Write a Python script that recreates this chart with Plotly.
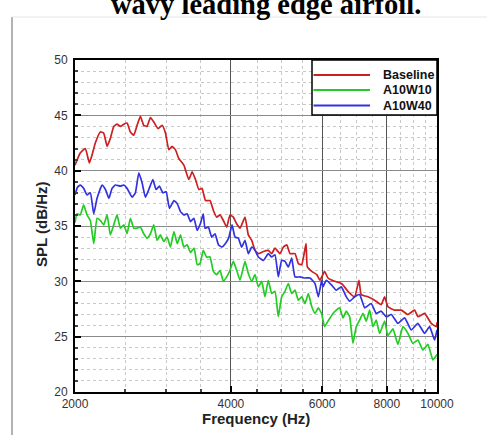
import plotly.graph_objects as go

# ---- data ----
f_base = [2000,2047,2094,2132,2157,2189,2238,2272,2307,2340,2376,2411,2447,2485,2521,2558,2597,2636,2675,2715,
          2755,2797,2839,2894,2946,2990,3035,3080,3125,3173,3245,3318,3367,3417,3469,3518,3573,3645,3700,3755,
          3811,3867,3926,3984,4043,4104,4165,4259,4322,4388,4453,4519,4624,4723,4795,4866,4976,5051,5128,5202,
          5319,5399,5480,5586,5619,5731,5861,5943,6066,6159,6348,6542,6731,6934,7068,7140,7356,7577,7804,7922,
          8040,8286,8530,8787,9052,9186,9463,9745,9975,10000]
spl_base = [40.5,41.6,42.0,40.7,41.4,42.5,43.5,43.4,42.2,42.9,44.0,44.2,44.0,44.2,44.3,43.5,43.2,44.1,44.9,44.1,
            44.0,44.8,44.4,43.8,44.1,43.4,41.9,42.2,41.9,41.1,40.5,39.2,39.9,39.2,38.3,38.4,37.3,37.3,36.4,35.8,
            36.0,35.5,34.9,36.0,35.8,35.2,34.8,35.8,34.2,33.7,32.8,32.5,32.7,32.8,32.5,33.0,32.5,33.1,33.3,32.5,
            32.5,31.6,31.5,33.4,31.3,30.9,30.6,30.1,30.9,30.3,30.0,29.8,29.1,28.6,30.1,28.8,28.6,28.3,27.9,28.6,
            27.7,27.4,27.4,27.0,27.4,26.8,27.1,26.2,25.9,26.3]

f_w10 = [2000,2018,2047,2078,2110,2141,2174,2206,2238,2272,2307,2340,2376,2411,2447,2485,2521,2558,2597,2636,
         2675,2715,2755,2797,2839,2881,2924,2968,3013,3057,3105,3152,3197,3245,3293,3342,3397,3443,3487,3537,
         3590,3645,3700,3755,3811,3867,3926,3984,4043,4104,4165,4259,4322,4388,4453,4519,4587,4655,4723,4795,
         4866,4939,5013,5087,5163,5241,5319,5399,5480,5561,5644,5731,5814,5900,5985,6066,6159,6297,6390,6487,
         6584,6682,6782,6882,6984,7090,7195,7302,7413,7522,7632,7749,7922,8040,8221,8405,8594,8787,8984,9186,
         9392,9603,9819,10000]
spl_w10 = [35.3,36.1,36.0,36.9,36.0,35.5,33.4,35.7,35.5,35.1,36.0,34.2,35.1,36.0,34.8,35.1,34.3,35.7,34.8,34.8,
           34.9,34.3,33.9,34.3,35.1,33.7,34.2,33.6,34.0,33.1,34.5,33.4,34.2,33.1,33.3,32.6,33.0,31.5,31.6,32.8,
           32.2,32.2,30.9,30.6,31.0,30.0,30.4,31.0,31.8,31.0,30.1,31.8,30.7,30.0,30.6,29.5,30.0,28.6,30.1,28.9,
           29.1,26.8,28.6,29.1,29.8,28.9,29.2,28.3,28.6,28.0,28.9,27.7,27.1,27.6,27.1,25.9,26.4,27.1,27.4,27.6,
           26.7,27.3,26.8,24.4,25.9,26.5,27.1,26.4,27.4,25.9,26.5,25.3,26.4,25.1,25.7,24.3,25.9,25.3,24.4,24.7,
           23.8,24.3,22.9,23.4]

f_w40 = [2000,2022,2047,2078,2110,2141,2174,2206,2256,2290,2325,2358,2393,2447,2485,2521,2578,2616,2656,2695,
         2735,2777,2827,2868,2911,2955,2999,3044,3105,3152,3197,3245,3293,3342,3393,3443,3492,3537,3565,3618,
         3673,3728,3784,3843,3901,3960,4020,4074,4134,4196,4259,4322,4388,4453,4519,4624,4723,4795,4866,4939,
         5013,5087,5163,5241,5319,5439,5561,5686,5814,5900,5989,6023,6112,6249,6390,6534,6682,6782,6934,7090,
         7252,7465,7632,7804,7980,8162,8405,8660,8916,9186,9463,9675,9893,10000]
spl_w40 = [37.8,38.5,38.7,38.4,37.8,38.0,36.1,37.5,38.7,38.3,37.5,38.4,38.7,38.6,38.7,38.4,37.6,38.0,39.8,38.9,
           37.6,38.3,39.2,38.3,38.6,38.0,38.1,36.6,37.3,37.0,36.3,36.0,36.1,35.4,35.7,34.6,35.2,36.1,34.8,34.9,
           34.0,34.3,33.3,33.1,33.4,33.9,35.1,34.0,33.9,33.1,33.7,32.5,33.1,32.8,32.2,31.9,32.5,32.2,32.4,30.4,
           31.9,31.8,31.3,32.1,30.4,30.4,30.3,30.3,29.8,28.6,30.1,29.5,30.1,29.7,29.2,29.5,28.6,28.2,28.6,28.8,
           27.6,28.0,27.1,27.3,26.8,27.0,26.2,26.7,25.6,26.2,25.3,25.9,24.7,25.6]

series_names = ["Baseline", "A10W10", "A10W40"]
series_colors = ["#cc2020", "#22cc22", "#3232e0"]

x_major = [2000, 4000, 6000, 8000, 10000]
x_major_text = ["2000", "4000", "6000", "8000", "10000"]
x_minor = [2500, 3000, 3500, 4500, 5000, 5500, 6500, 7000, 7500, 8500, 9000, 9500]
y_major = [20, 25, 30, 35, 40, 45, 50]

title_text = "wavy leading edge airfoil."
x_title = "Frequency (Hz)"
y_title = "SPL (dB/Hz)"

# ---- figure ----
fig = go.Figure()
for fx, fy, name, col in zip([f_base, f_w10, f_w40], [spl_base, spl_w10, spl_w40], series_names, series_colors):
    fig.add_trace(go.Scatter(x=fx, y=fy, mode="lines", name=name, showlegend=False,
                             line=dict(color=col, width=1.7, shape="spline", smoothing=0.4)))

L, R, T, B = 75, 50, 60, 43
W, H = 487, 435
pw, ph = W - L - R, H - T - B

def px(xp):
    return (xp - L) / pw

def py(yp):
    return (H - B - yp) / ph

axis_font = dict(family="Arial, Liberation Sans, sans-serif", size=12, color="#333333")

fig.update_layout(
    width=W, height=H, margin=dict(l=L, r=R, t=T, b=B),
    paper_bgcolor="white", plot_bgcolor="white",
    xaxis=dict(type="log", range=[3.30103, 4.0], tickmode="array", tickvals=x_major, ticktext=x_major_text,
               showgrid=True, gridcolor="#555555", gridwidth=1, zeroline=False,
               showline=True, linecolor="black", linewidth=2, mirror=True,
               ticks="inside", ticklen=6, tickwidth=2, tickcolor="black", tickfont=axis_font,
               minor=dict(tickmode="array", tickvals=x_minor, showgrid=True, gridcolor="#c8c8c8",
                          griddash="dot", gridwidth=1, ticks="inside", ticklen=3, tickcolor="#444")),
    yaxis=dict(range=[20, 50], tickmode="array", tickvals=y_major,
               showgrid=True, gridcolor="#8a8a8a", gridwidth=1, zeroline=False,
               showline=True, linecolor="black", linewidth=2, mirror=True,
               ticks="inside", ticklen=6, tickwidth=2, tickcolor="black", tickfont=axis_font,
               ticklabelstandoff=3,
               minor=dict(dtick=1, showgrid=True, gridcolor="#c8c8c8", griddash="dot", gridwidth=1,
                          ticks="inside", ticklen=3, tickcolor="#444")),
    showlegend=False,
)

bold = dict(family="Arial, Liberation Sans, sans-serif", size=15, color="#222222")
annotations = [
    dict(text="<b>%s</b>" % x_title, x=0.5, y=py(419), xref="paper", yref="paper",
         xanchor="center", yanchor="middle", showarrow=False, font=bold),
    dict(text="<b>%s</b>" % y_title, x=px(41), y=py(224), xref="paper", yref="paper",
         xanchor="center", yanchor="middle", showarrow=False, font=bold, textangle=-90),
    dict(text="<b>%s</b>" % title_text, x=px(266), y=py(5), xref="paper", yref="paper",
         xanchor="center", yanchor="middle", showarrow=False,
         font=dict(family="Liberation Serif, Times New Roman, serif", size=28.5, color="black")),
]

shapes = [
    # page frame lines (document border)
    dict(type="line", xref="paper", yref="paper", x0=px(12), x1=px(12), y0=py(17), y1=py(440),
         line=dict(color="#9a9a9a", width=1.5)),
    dict(type="line", xref="paper", yref="paper", x0=px(12), x1=px(490), y0=py(17), y1=py(17),
         line=dict(color="#e6e6e6", width=1)),
    # legend box
    dict(type="rect", xref="paper", yref="paper", x0=px(312), x1=1.0, y0=py(115), y1=1.0,
         fillcolor="white", line=dict(color="black", width=1.5), layer="above"),
]
leg_rows = [75, 90, 105.5]
for yy, name, col in zip(leg_rows, series_names, series_colors):
    shapes.append(dict(type="line", xref="paper", yref="paper", x0=px(313.5), x1=px(370),
                       y0=py(yy), y1=py(yy), line=dict(color=col, width=1.8), layer="above"))
    annotations.append(dict(text="<b>%s</b>" % name, x=px(381), y=py(yy), xref="paper", yref="paper",
                            xanchor="left", yanchor="middle", showarrow=False,
                            font=dict(family="Arial, Liberation Sans, sans-serif", size=12.5, color="#111111")))

fig.update_layout(annotations=annotations, shapes=shapes)
fig.write_html("out.html")
